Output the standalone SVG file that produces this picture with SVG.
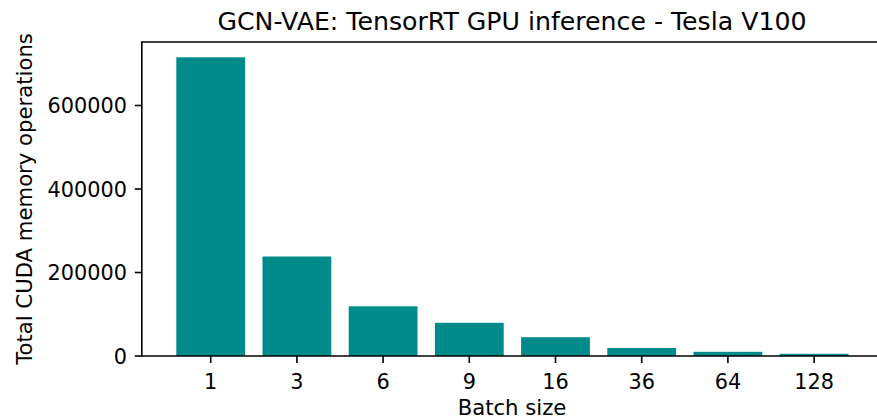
<svg xmlns="http://www.w3.org/2000/svg" width="877" height="419" viewBox="0 0 877 419">
  <style>
    text { font-family: "DejaVu Sans", "Liberation Sans", sans-serif; fill: #000; }
    .tick { font-size: 20.8px; }
    .lab { font-size: 21.2px; }
    .title { font-size: 25.2px; }
    .bar { fill: #008b8b; }
    .axis { stroke: #000; stroke-width: 1.6; fill: none; stroke-linecap: square; }
    .tk { stroke: #000; stroke-width: 1.6; }
  </style>
  <rect width="877" height="419" fill="#fff"/>

  <!-- bars: centre spacing 86.2 px, width 68.8 px, baseline y=356 -->
  <g id="bars">
    <rect class="bar" x="176.3" y="57.3" width="68.8" height="298.7"/>
    <rect class="bar" x="262.5" y="256.5" width="68.8" height="99.5"/>
    <rect class="bar" x="348.7" y="306.3" width="68.8" height="49.7"/>
    <rect class="bar" x="434.9" y="322.8" width="68.8" height="33.2"/>
    <rect class="bar" x="521.1" y="337.2" width="68.8" height="18.8"/>
    <rect class="bar" x="607.3" y="348" width="68.8" height="8"/>
    <rect class="bar" x="693.5" y="351.8" width="68.8" height="4.2"/>
    <rect class="bar" x="779.7" y="353.8" width="68.8" height="2.2"/>
  </g>

  <!-- spines -->
  <g id="axes">
    <path class="axis" d="M141.8 356 V42 H880"/>
    <path class="axis" d="M141.8 356 H880"/>
  </g>

  <!-- y ticks -->
  <g id="yticks">
    <line class="tk" x1="134.8" y1="356" x2="141.8" y2="356"/>
    <line class="tk" x1="134.8" y1="272.5" x2="141.8" y2="272.5"/>
    <line class="tk" x1="134.8" y1="189" x2="141.8" y2="189"/>
    <line class="tk" x1="134.8" y1="105.5" x2="141.8" y2="105.5"/>
    <text class="tick" x="127" y="363.5" text-anchor="end">0</text>
    <text class="tick" x="127" y="280" text-anchor="end">200000</text>
    <text class="tick" x="127" y="196.5" text-anchor="end">400000</text>
    <text class="tick" x="127" y="113" text-anchor="end">600000</text>
  </g>

  <!-- x ticks -->
  <g id="xticks">
    <line class="tk" x1="210.7" y1="356" x2="210.7" y2="363"/>
    <line class="tk" x1="296.9" y1="356" x2="296.9" y2="363"/>
    <line class="tk" x1="383.1" y1="356" x2="383.1" y2="363"/>
    <line class="tk" x1="469.3" y1="356" x2="469.3" y2="363"/>
    <line class="tk" x1="555.5" y1="356" x2="555.5" y2="363"/>
    <line class="tk" x1="641.7" y1="356" x2="641.7" y2="363"/>
    <line class="tk" x1="727.9" y1="356" x2="727.9" y2="363"/>
    <line class="tk" x1="814.1" y1="356" x2="814.1" y2="363"/>
    <text class="tick" x="210.7" y="388.5" text-anchor="middle">1</text>
    <text class="tick" x="296.9" y="388.5" text-anchor="middle">3</text>
    <text class="tick" x="383.1" y="388.5" text-anchor="middle">6</text>
    <text class="tick" x="469.3" y="388.5" text-anchor="middle">9</text>
    <text class="tick" x="555.5" y="388.5" text-anchor="middle">16</text>
    <text class="tick" x="641.7" y="388.5" text-anchor="middle">36</text>
    <text class="tick" x="727.9" y="388.5" text-anchor="middle">64</text>
    <text class="tick" x="814.1" y="388.5" text-anchor="middle">128</text>
  </g>

  <!-- labels -->
  <g id="labels">
    <text class="lab" x="512" y="415" text-anchor="middle">Batch size</text>
    <text class="lab" transform="translate(32 199) rotate(-90)" text-anchor="middle">Total CUDA memory operations</text>
    <text class="title" x="512" y="29.5" text-anchor="middle">GCN-VAE: TensorRT GPU inference - Tesla V100</text>
  </g>
</svg>
